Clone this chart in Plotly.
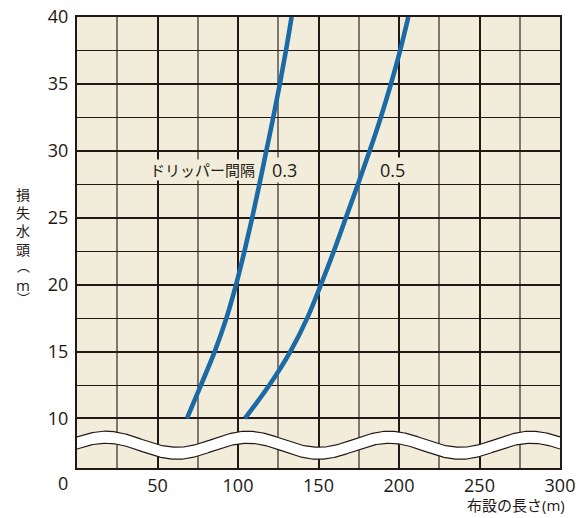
import numpy as np
import plotly.graph_objects as go

# ---- data ----
head_loss = [10, 12.5, 15, 17.5, 20, 22.5, 25, 27.5, 30, 32.5, 35, 37.5, 40]
length_spacing_03 = [68.3, 77.0, 85.5, 92.8, 98.8, 104.0, 108.8, 113.3, 117.6, 121.9, 126.0, 129.8, 133.3]
length_spacing_05 = [104.3, 119.5, 132.5, 143.0, 151.5, 159.5, 167.0, 174.5, 181.8, 188.7, 195.0, 200.7, 205.8]
x_tick_vals = [0, 50, 100, 150, 200, 250, 300]
x_tick_text = ["", "50", "100", "150", "200", "250", "300"]
y_tick_vals = [10, 15, 20, 25, 30, 35, 40]
y_minor_vals = [12.5, 17.5, 22.5, 27.5, 32.5, 37.5]
x_minor_vals = [25, 75, 125, 175, 225, 275]

DARK = "#231815"
GREY = "#7f776d"
CREAM = "#f1edda"
BLUE = "#1b6aa6"
FONT = "Open Sans, Noto Sans CJK JP, sans-serif"

# plot area in pixels (for placing outside labels)
L, R, T, B = 77, 560, 17, 468
W, H = R - L, B - T


def px_x(px):
    return (px - L) / W


def px_y(py):
    return (B - py) / H


fig = go.Figure()

# axis-break decoration (wavy white band)
xb = np.linspace(0, 300, 601)
center = 8.0 + 0.6 * np.cos(2 * np.pi * (xb - 18) / 88)
fig.add_trace(go.Scatter(x=xb, y=center - 0.45, mode="lines",
                         line=dict(color=DARK, width=1.2),
                         hoverinfo="skip", showlegend=False))
fig.add_trace(go.Scatter(x=xb, y=center + 0.45, mode="lines", fill="tonexty",
                         fillcolor="white", line=dict(color=DARK, width=1.2),
                         hoverinfo="skip", showlegend=False))

# curves
for xs, name in [(length_spacing_03, "0.3"), (length_spacing_05, "0.5")]:
    fig.add_trace(go.Scatter(x=xs, y=head_loss, mode="lines", name=name,
                             line=dict(color=BLUE, width=4.6, shape="spline"),
                             showlegend=False))

annotations = [
    dict(text="ドリッパー間隔", x=78.1, y=28.55, xref="x", yref="y",
         xanchor="center", yanchor="middle",
         showarrow=False, font=dict(size=15, color=DARK, family=FONT),
         bgcolor=CREAM, borderpad=0),
    dict(text="0.3", x=128.8, y=28.55, xref="x", yref="y",
         xanchor="center", yanchor="middle",
         showarrow=False, font=dict(size=18, color=DARK, family=FONT),
         bgcolor=CREAM, borderpad=0),
    dict(text="0.5", x=196.1, y=28.55, xref="x", yref="y",
         xanchor="center", yanchor="middle",
         showarrow=False, font=dict(size=18, color=DARK, family=FONT),
         bgcolor=CREAM, borderpad=0),
    dict(text="0", x=px_x(62.5), y=px_y(483), xref="paper", yref="paper",
         xanchor="center", yanchor="middle",
         showarrow=False, font=dict(size=18, color=DARK, family=FONT)),
    dict(text="布設の長さ(m)", x=px_x(567), y=px_y(505), xref="paper", yref="paper",
         xanchor="right", yanchor="middle",
         showarrow=False, font=dict(size=15, color=DARK, family=FONT)),
    # vertical y-axis title
    dict(text="損<br>失<br>水<br>頭", x=px_x(23), y=px_y(222), xref="paper", yref="paper",
         xanchor="center", yanchor="middle",
         showarrow=False, font=dict(size=14, color=DARK, family=FONT)),
    dict(text="︵", x=px_x(23), y=px_y(266), xref="paper", yref="paper",
         xanchor="center", yanchor="middle",
         showarrow=False, font=dict(size=13, color=DARK, family=FONT)),
    dict(text="m", x=px_x(23), y=px_y(285), xref="paper", yref="paper",
         xanchor="center", yanchor="middle",
         showarrow=False, font=dict(size=15, color=DARK, family=FONT)),
    dict(text="︶", x=px_x(23), y=px_y(298), xref="paper", yref="paper",
         xanchor="center", yanchor="middle",
         showarrow=False, font=dict(size=13, color=DARK, family=FONT)),
]

fig.update_layout(
    width=576, height=518,
    margin=dict(l=L, r=576 - R, t=T, b=518 - B, pad=0, autoexpand=False),
    paper_bgcolor="white", plot_bgcolor=CREAM,
    font=dict(family=FONT, color=DARK, size=18),
    showlegend=False,
    annotations=annotations,
    xaxis=dict(range=[0, 300], tickmode="array", tickvals=x_tick_vals, ticktext=x_tick_text,
               showgrid=True, gridcolor=DARK, gridwidth=2, zeroline=False, automargin=False,
               showline=True, mirror=True, linecolor=DARK, linewidth=2,
               ticks="", ticklabelstandoff=0, tickfont=dict(size=18, color=DARK),
               minor=dict(tickmode="array", tickvals=x_minor_vals, showgrid=True,
                          gridcolor=GREY, gridwidth=1.5, ticks="")),
    yaxis=dict(range=[6.3, 40], tickmode="array", tickvals=y_tick_vals,
               showgrid=True, gridcolor=DARK, gridwidth=2, zeroline=False, automargin=False,
               showline=True, mirror=True, linecolor=DARK, linewidth=2,
               ticks="", ticklabelstandoff=3, tickfont=dict(size=18, color=DARK),
               minor=dict(tickmode="array", tickvals=y_minor_vals, showgrid=True,
                          gridcolor=DARK, gridwidth=1.2, ticks="")),
)

fig.write_html("out.html", config={"displayModeBar": False},
               post_script="document.body.style.margin='0';")
